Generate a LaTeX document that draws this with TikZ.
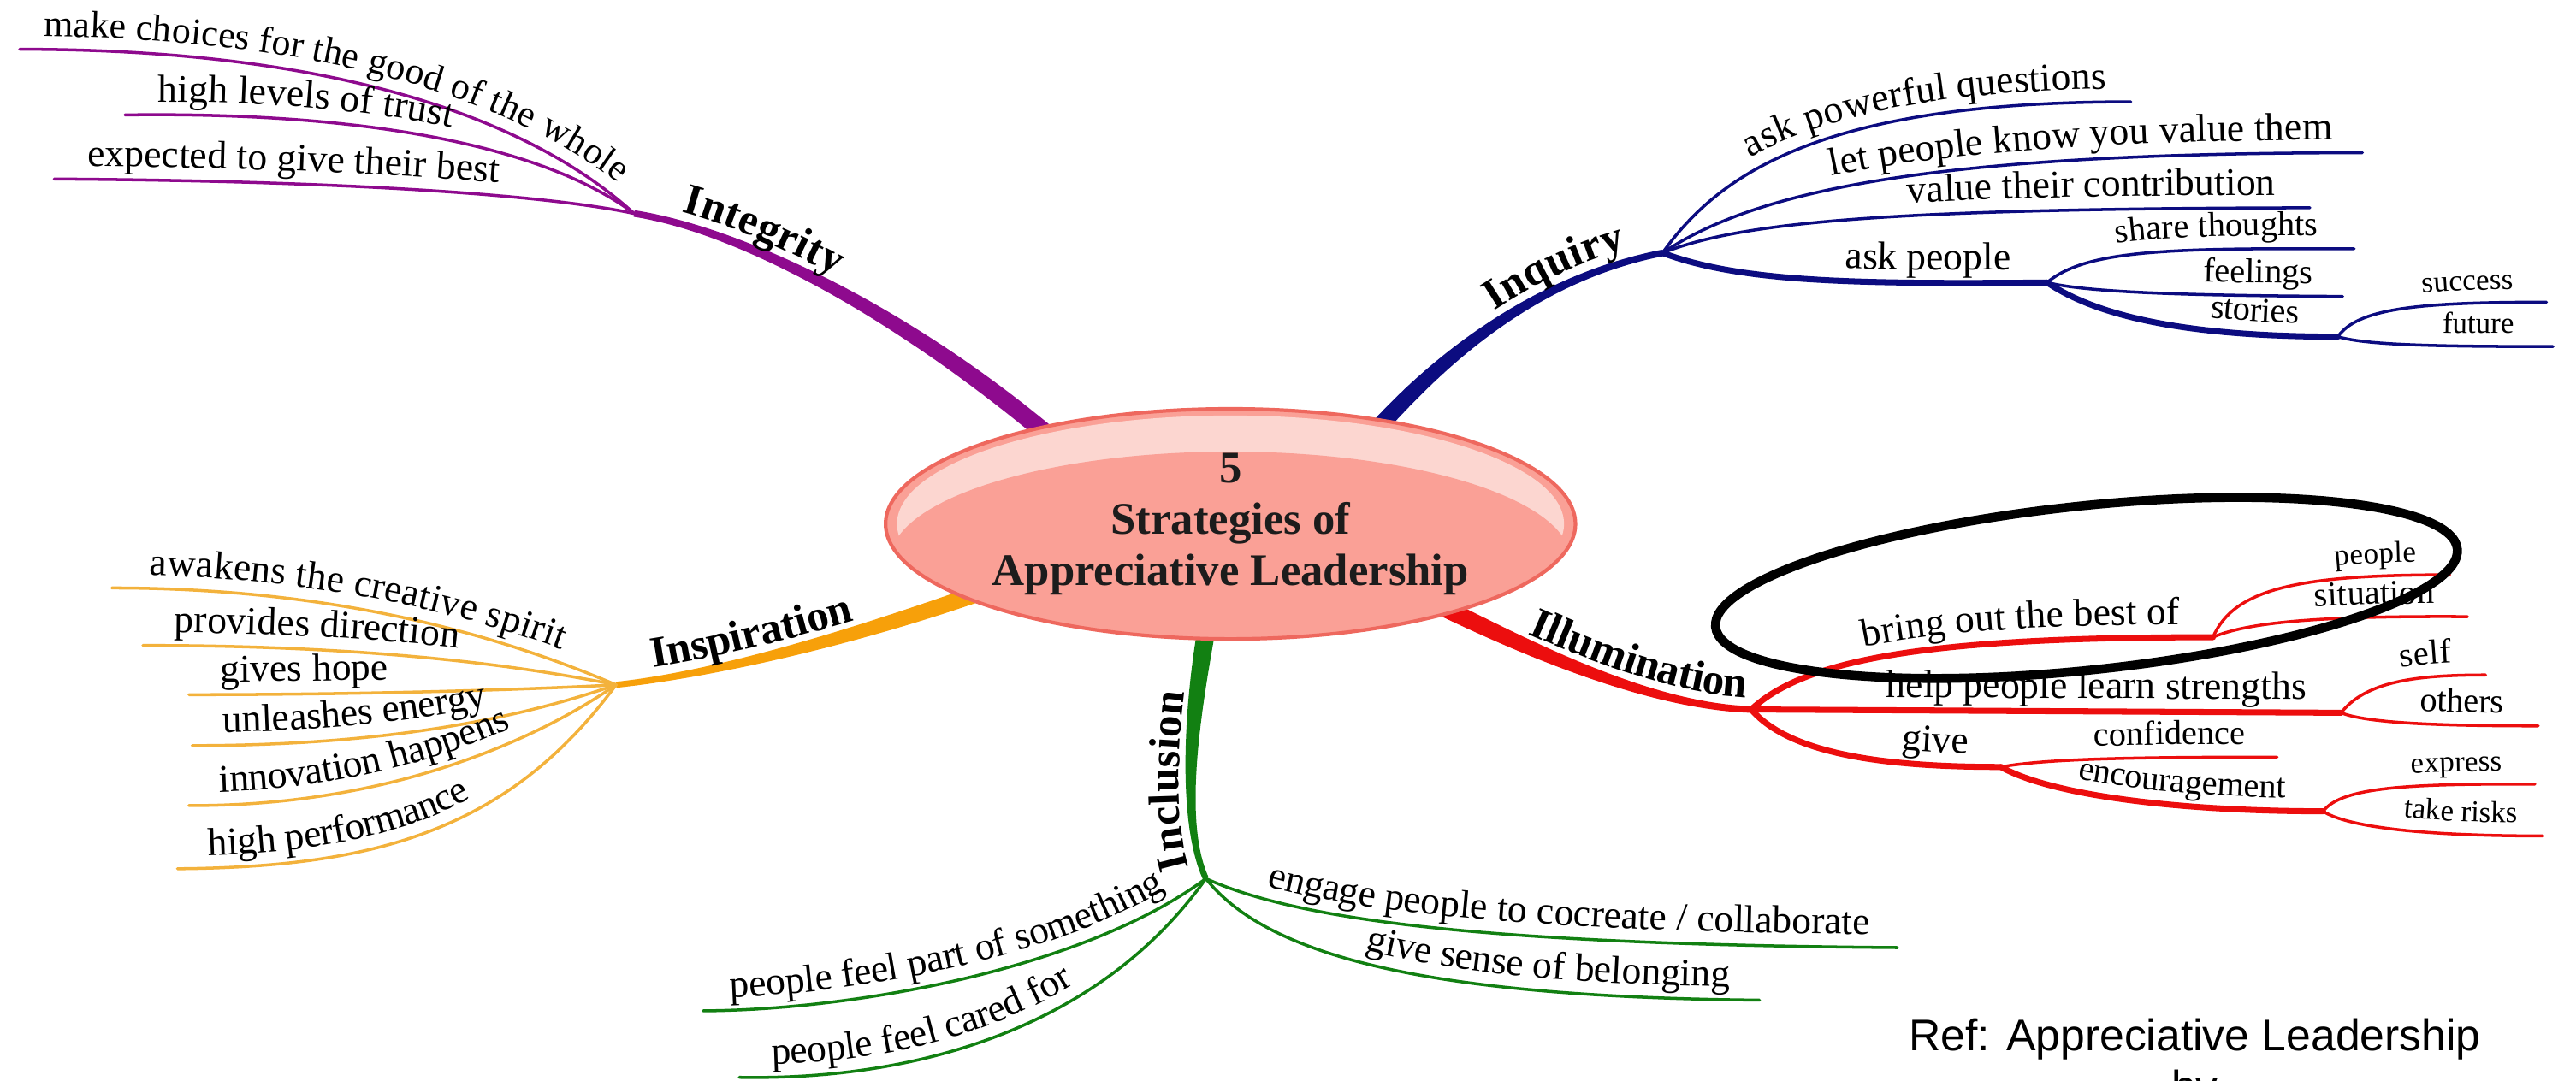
\documentclass[tikz,border=0pt]{standalone}
\usepackage{fontspec}
\setmainfont{Liberation Serif}
\newfontfamily\reffont{Liberation Sans}
\usetikzlibrary{calc,shapes.geometric,decorations.text,backgrounds}

\definecolor{hubfill}{RGB}{250,160,150}
\definecolor{hubhi}{RGB}{252,214,208}
\definecolor{hubline}{RGB}{238,104,94}
\definecolor{integ}{RGB}{142,10,142}
\definecolor{inqu}{RGB}{12,12,128}
\definecolor{insp}{RGB}{247,160,10}
\definecolor{inspleaf}{RGB}{243,178,60}
\definecolor{illu}{RGB}{236,14,14}
\definecolor{incl}{RGB}{18,128,18}
\definecolor{txt}{RGB}{28,28,28}

\newcommand{\leafbig}{\fontsize{13}{15}\selectfont}
\newcommand{\leafmid}{\fontsize{11.5}{13}\selectfont}
\newcommand{\leafsmall}{\fontsize{10}{12}\selectfont}
\newcommand{\trunkfont}{\bfseries\fontsize{14.5}{16}\selectfont}
\newcommand{\trunk}[7]{%
  \fill[#1] ($(#2)!#6!90:(#3)$) .. controls ($(#3)!#6!-90:(#2)$) and ($(#4)!#7!90:(#5)$) .. ($(#5)!#7!-90:(#4)$)
    -- ($(#5)!#7!90:(#4)$) .. controls ($(#4)!#7!-90:(#5)$) and ($(#3)!#6!90:(#2)$) .. ($(#2)!#6!-90:(#3)$) -- cycle;}

\begin{document}
\begin{tikzpicture}[x=0.0192cm, y=-0.0192cm,
  hub/.style={ellipse, draw=hubline, line width=1.2pt, fill=hubfill, text=txt,
    minimum width=8.06cm, minimum height=2.69cm, align=center, inner sep=0pt,
    font=\bfseries\fontsize{15}{17}\selectfont,
    path picture={
      \fill[hubhi] (path picture bounding box.center) ellipse [x radius=203, y radius=66];
      \fill[hubfill] ($(path picture bounding box.center)+(0,22)$) ellipse [x radius=207, y radius=66];}},
  twig/.style={line width=1pt, line cap=round},
  bough/.style={line width=2pt, line cap=round},
  lt/.style n args={3}{postaction={decorate, color=txt, decoration={text along path,
      text={|#1|#3}, raise=4.3pt, text align={left indent=#2}}}},
  rt/.style n args={3}{postaction={decorate, color=txt, decoration={text along path,
      text={|#1|#3}, raise=4.3pt, text align={align=right, right indent=#2}}}},
  tl/.style n args={2}{decorate, color=txt, decoration={text along path,
      text={|\trunkfont|#2}, raise=4pt, text align={left indent=#1}}},
  circled/.style={draw=black, line width=3pt},
  reftext/.style={font=\reffont\fontsize{14.7}{16}\selectfont, text=black, inner sep=0pt}
]
\useasboundingbox (0,0) rectangle (1568,658);
\clip (0,0) rectangle (1568,658);

\node[hub] (hub) at (749,319) {5\\Strategies of\\Appreciative Leadership};

\coordinate (sI) at ($(hub.center)!0.85!(hub.155)$);
\coordinate (sQ) at ($(hub.center)!0.85!(hub.32)$);
\coordinate (sL) at ($(hub.center)!0.85!(hub.339)$);
\coordinate (sP) at ($(hub.center)!0.85!(hub.195)$);
\coordinate (sN) at ($(hub.center)!0.85!(hub.257)$);

\coordinate (jI) at (386,130);
\coordinate (jQ) at (1012,154);
\coordinate (jQa) at (1246,172);
\coordinate (jQb) at (1423,205);
\coordinate (jL) at (1066,432);
\coordinate (jLa) at (1347,388);
\coordinate (jLb) at (1425,434);
\coordinate (jLc) at (1218,467);
\coordinate (jLd) at (1414,494);
\coordinate (jP) at (375,417);
\coordinate (jN) at (734,535);

\coordinate (i1) at (12,30);
\coordinate (i2) at (76,70);
\coordinate (i3) at (33,109);
\coordinate (q1) at (1297,62);
\coordinate (q2) at (1438,93);
\coordinate (q3) at (1406,126.5);
\coordinate (q4) at (1433,151.5);
\coordinate (q5) at (1426,180.5);
\coordinate (q6) at (1550,184);
\coordinate (q7) at (1554,211);
\coordinate (l1) at (1491,350);
\coordinate (l2) at (1502,375.5);
\coordinate (l3) at (1513,411);
\coordinate (l4) at (1545,442);
\coordinate (l5) at (1386,461);
\coordinate (l6) at (1543,477.5);
\coordinate (l7) at (1548,509);
\coordinate (p1) at (68,358);
\coordinate (p2) at (87,393);
\coordinate (p3) at (115,423);
\coordinate (p4) at (117,454);
\coordinate (p5) at (115,490.5);
\coordinate (p6) at (108,529);
\coordinate (n1) at (1155,577);
\coordinate (n2) at (1071,609);
\coordinate (n3) at (428,615.5);
\coordinate (n4) at (450,656);

\begin{scope}[on background layer]
\trunk{integ}{sI}{550,190}{450,140}{jI}{3pt}{1.1pt}
\trunk{inqu}{sQ}{870,225}{930,170}{jQ}{2.8pt}{1.1pt}
\trunk{illu}{sL}{920,390}{1000,430}{jL}{3pt}{1.1pt}
\trunk{insp}{sP}{530,385}{440,410}{jP}{2.8pt}{1pt}
\trunk{incl}{sN}{726,430}{718,500}{jN}{3pt}{1pt}
\end{scope}

\path[tl={15pt}{Integrity}] (jI) .. controls (450,140) and (550,190) .. (sI);
\path[tl={58pt}{Inquiry}] (sQ) .. controls (870,225) and (930,170) .. (jQ);
\path[tl={36pt}{Illumination}] (sL) .. controls (920,390) and (1000,430) .. (jL);
\path[tl={13pt}{Inspiration}] (jP) .. controls (440,410) and (530,385) .. (sP);
\path[tl={5pt}{Inclusion}] (jN) .. controls (718,500) and (726,430) .. (sN);

\draw[twig, integ, lt={\fontsize{12.5}{14}\selectfont}{8pt}{make choices for the good of the whole}] (i1) .. controls (200,30) and (320,70) .. (jI);
\draw[twig, integ, lt={\leafbig}{11pt}{high levels of trust}] (i2) .. controls (220,68) and (330,88) .. (jI);
\draw[twig, integ, lt={\leafbig}{11pt}{expected to give their best}] (i3) .. controls (200,110) and (330,118) .. (jI);

\draw[twig, inqu, rt={\leafbig}{8pt}{ask powerful questions}] (jQ) .. controls (1050,100) and (1120,62) .. (q1);
\draw[twig, inqu, rt={\leafbig}{10pt}{let people know you value them}] (jQ) .. controls (1070,115) and (1180,93) .. (q2);
\draw[twig, inqu, rt={\leafbig}{11.5pt}{value their contribution}] (jQ) .. controls (1060,135) and (1150,127) .. (q3);
\draw[bough, inqu, rt={\leafbig}{12pt}{ask people}] (jQ) .. controls (1060,172) and (1130,173) .. (jQa);
\draw[twig, inqu, rt={\leafmid}{12pt}{share thoughts}] (jQa) .. controls (1270,152) and (1320,151) .. (q4);
\draw[twig, inqu, rt={\leafmid}{10pt}{feelings}] (jQa) .. controls (1270,178) and (1330,180) .. (q5);
\draw[bough, inqu, rt={\leafmid}{13pt}{stories}] (jQa) .. controls (1280,195) and (1340,205) .. (jQb);
\draw[twig, inqu, rt={\leafsmall}{11pt}{success}] (jQb) .. controls (1435,188) and (1470,184) .. (q6);
\draw[twig, inqu, rt={\leafsmall}{13pt}{future}] (jQb) .. controls (1440,210) and (1480,211) .. (q7);

\draw[twig, inspleaf, lt={\leafbig}{12.5pt}{awakens the creative spirit}] (p1) .. controls (200,358) and (300,385) .. (jP);
\draw[twig, inspleaf, lt={\leafbig}{10.4pt}{provides direction}] (p2) .. controls (230,393) and (320,406) .. (jP);
\draw[twig, inspleaf, lt={\leafbig}{10.4pt}{gives hope}] (p3) .. controls (220,423) and (320,420) .. (jP);
\draw[twig, inspleaf, lt={\leafbig}{10.4pt}{unleashes energy}] (p4) .. controls (240,454) and (320,436) .. (jP);
\draw[twig, inspleaf, lt={\leafbig}{10.4pt}{innovation happens}] (p5) .. controls (230,491) and (320,455) .. (jP);
\draw[twig, inspleaf, lt={\leafbig}{10.4pt}{high performance}] (p6) .. controls (230,528) and (310,505) .. (jP);

\draw[bough, illu, rt={\leafbig}{11pt}{bring out the best of}] (jL) .. controls (1100,400) and (1180,388) .. (jLa);
\draw[twig, illu, rt={\leafsmall}{11pt}{people}] (jLa) .. controls (1360,358) and (1400,350) .. (l1);
\draw[twig, illu, rt={\leafmid}{11pt}{situation}] (jLa) .. controls (1370,378) and (1420,375) .. (l2);
\draw[bough, illu, rt={\leafbig}{11.5pt}{help people learn strengths}] (jL) -- (jLb);
\draw[twig, illu, rt={\leafmid}{11pt}{self}] (jLb) .. controls (1440,415) and (1470,411) .. (l3);
\draw[twig, illu, rt={\leafmid}{11.5pt}{others}] (jLb) .. controls (1440,440) and (1480,442) .. (l4);
\draw[bough, illu, rt={\leafbig}{11pt}{give}] (jL) .. controls (1090,460) and (1150,467) .. (jLc);
\draw[twig, illu, rt={\leafmid}{10.4pt}{confidence}] (jLc) .. controls (1245,462) and (1300,461) .. (l5);
\draw[bough, illu, rt={\leafmid}{12.5pt}{encouragement}] (jLc) .. controls (1250,485) and (1330,494) .. (jLd);
\draw[twig, illu, rt={\leafsmall}{11pt}{express}] (jLd) .. controls (1425,480) and (1460,477) .. (l6);
\draw[twig, illu, rt={\leafsmall}{8.7pt}{take risks}] (jLd) .. controls (1428,503) and (1470,509) .. (l7);

\draw[twig, incl, rt={\leafbig}{9.3pt}{engage people to cocreate / collaborate}] (jN) .. controls (790,560) and (900,575) .. (n1);
\draw[twig, incl, rt={\leafbig}{10pt}{give sense of belonging}] (jN) .. controls (770,580) and (860,607) .. (n2);
\draw[twig, incl, lt={\leafbig}{9.3pt}{people feel part of something}] (n3) .. controls (520,615) and (660,590) .. (jN);
\draw[twig, incl, lt={\leafbig}{11pt}{people feel cared for}] (n4) .. controls (560,658) and (670,625) .. (jN);

\draw[circled, rotate around={6:(1270,358)}] (1270,358) ellipse [x radius=227, y radius=50];

\node[reftext, anchor=base] (ref) at (1336,640) {Ref: Appreciative Leadership};
\node[reftext, anchor=base] (refby) at (1336,671) {by};
\end{tikzpicture}
\end{document}
